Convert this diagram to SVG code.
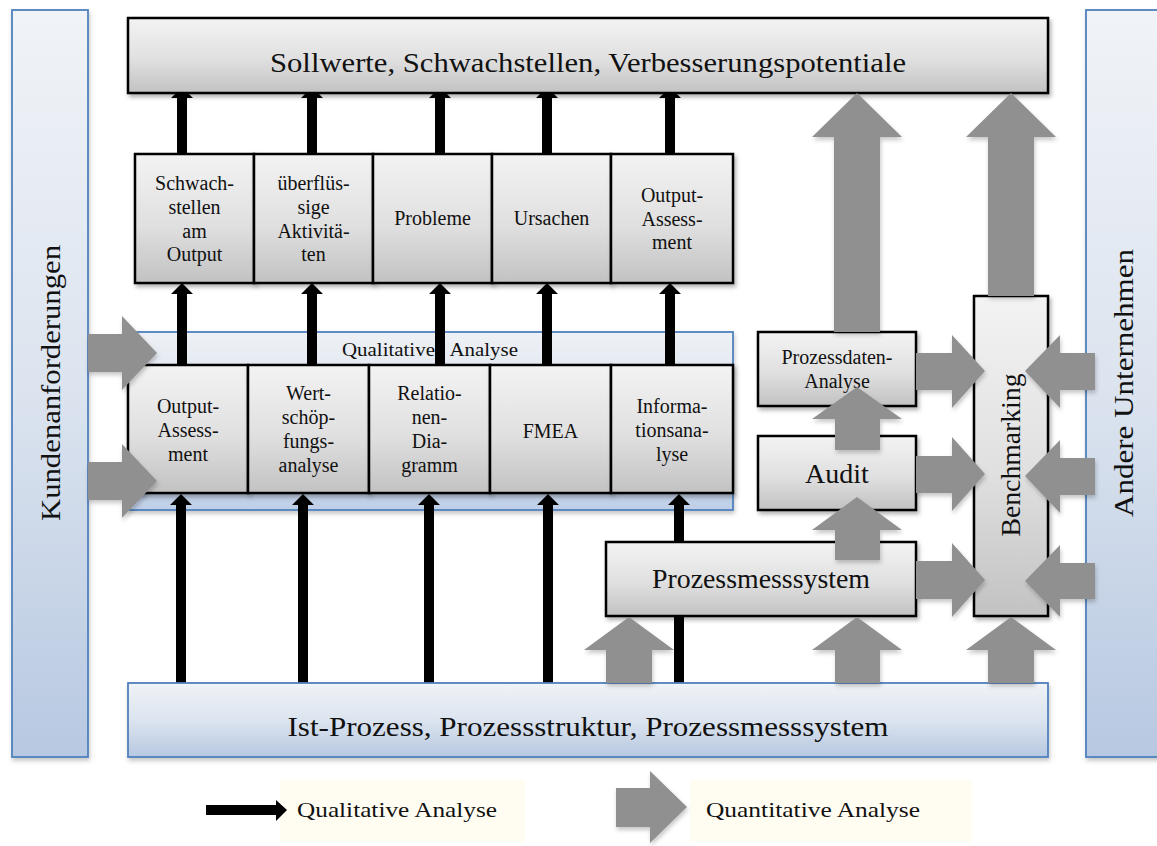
<svg xmlns="http://www.w3.org/2000/svg" width="1157" height="846" viewBox="0 0 1157 846" font-family="'Liberation Serif', 'Times New Roman', serif">
  <defs>
    <linearGradient id="grayFill" x1="0" y1="0" x2="0" y2="1">
      <stop offset="0" stop-color="#f3f3f3"/>
      <stop offset="0.55" stop-color="#e0e0e0"/>
      <stop offset="1" stop-color="#c2c2c2"/>
    </linearGradient>
    <linearGradient id="blueFill" x1="0" y1="0" x2="0" y2="1">
      <stop offset="0" stop-color="#f0f3f7"/>
      <stop offset="0.5" stop-color="#dce4ef"/>
      <stop offset="1" stop-color="#b7c8e1"/>
    </linearGradient>
    <linearGradient id="bandFill" x1="0" y1="0" x2="0" y2="1">
      <stop offset="0" stop-color="#eef1f5"/>
      <stop offset="1" stop-color="#bfcfe7"/>
    </linearGradient>
    <filter id="shadow" x="-10%" y="-10%" width="125%" height="130%">
      <feDropShadow dx="2" dy="3" stdDeviation="2" flood-color="#000" flood-opacity="0.3"/>
    </filter>
    <filter id="softShadow" x="-10%" y="-10%" width="125%" height="130%">
      <feDropShadow dx="1" dy="3" stdDeviation="2" flood-color="#000" flood-opacity="0.22"/>
    </filter>
  </defs>
  <style>
    text { fill: #111; }
    .gbox { fill: url(#grayFill); stroke: #000; stroke-width: 2.5; filter: url(#shadow); }
    .bbox { fill: url(#blueFill); stroke: #4f81bd; stroke-width: 1.8; filter: url(#softShadow); }
    .band { fill: url(#bandFill); stroke: #4f81bd; stroke-width: 1.8; filter: url(#softShadow); }
    .qual { fill: #000; }
    .quant { fill: #909090; filter: url(#softShadow); }
    .sm { font-size: 20px; text-anchor: middle; }
    .big { font-size: 28px; text-anchor: middle; }
    .mid { font-size: 28px; text-anchor: middle; }
    .cream { fill: #fffdf1; }
  </style>

  <rect width="1157" height="846" fill="#fff"/>
  <!-- legend label backdrops -->
  <rect class="cream" x="280" y="780" width="245" height="62"/>
  <rect class="cream" x="690" y="780" width="282" height="62"/>

  <!-- side bars -->
  <g id="kundenanforderungen">
    <rect class="bbox" x="12" y="10" width="76" height="747"/>
    <text class="big" transform="translate(60 383) rotate(-90)" textLength="276" lengthAdjust="spacingAndGlyphs">Kundenanforderungen</text>
  </g>
  <g id="andere-unternehmen">
    <rect class="bbox" x="1086" y="10" width="80" height="747"/>
    <text class="big" transform="translate(1133 383) rotate(-90)" textLength="268" lengthAdjust="spacingAndGlyphs">Andere Unternehmen</text>
  </g>

  <!-- qualitative analysis band -->
  <g id="qualitative-band">
    <rect class="band" x="128" y="332" width="605" height="178"/>
    <text x="430" y="356" font-size="19" text-anchor="middle" xml:space="preserve" textLength="176" lengthAdjust="spacingAndGlyphs">Qualitative   Analyse</text>
  </g>

  <!-- qualitative connectors (black arrows) -->
  <g id="connectors-qualitative">
    <!-- upper boxes to top bar -->
    <path class="qual" d="M177 153V98H171L182 87L193 98H187V153Z"/>
    <path class="qual" d="M307 153V98H301L312 87L323 98H317V153Z"/>
    <path class="qual" d="M435 153V98H429L440 87L451 98H445V153Z"/>
    <path class="qual" d="M542 153V98H536L547 87L558 98H552V153Z"/>
    <path class="qual" d="M665 153V98H659L670 87L681 98H675V153Z"/>
    <!-- lower boxes to upper boxes -->
    <path class="qual" d="M177 365V294H171L182 283L193 294H187V365Z"/>
    <path class="qual" d="M307 365V294H301L312 283L323 294H317V365Z"/>
    <path class="qual" d="M435 365V294H429L440 283L451 294H445V365Z"/>
    <path class="qual" d="M542 365V294H536L547 283L558 294H552V365Z"/>
    <path class="qual" d="M665 365V294H659L670 283L681 294H675V365Z"/>
    <!-- base bar to lower boxes -->
    <path class="qual" d="M176 683V505H170L181 494L192 505H186V683Z"/>
    <path class="qual" d="M298 683V505H292L303 494L314 505H308V683Z"/>
    <path class="qual" d="M424 683V505H418L429 494L440 505H434V683Z"/>
    <path class="qual" d="M543 683V505H537L548 494L559 505H553V683Z"/>
    <path class="qual" d="M674 683V505H668L679 494L690 505H684V683Z"/>
  </g>

  <!-- top result bar -->
  <g id="sollwerte">
    <rect class="gbox" x="128" y="18" width="920" height="75"/>
    <text class="big" x="588" y="72" textLength="636" lengthAdjust="spacingAndGlyphs">Sollwerte, Schwachstellen, Verbesserungspotentiale</text>
  </g>

  <!-- result boxes -->
  <g id="schwachstellen-output">
    <rect class="gbox" x="135" y="154" width="119" height="129"/>
    <text class="sm" x="194.5" y="190">Schwach-</text>
    <text class="sm" x="194.5" y="214">stellen</text>
    <text class="sm" x="194.5" y="238">am</text>
    <text class="sm" x="194.5" y="261">Output</text>
  </g>
  <g id="ueberfluessige-aktivitaeten">
    <rect class="gbox" x="254" y="154" width="119" height="129"/>
    <text class="sm" x="313.5" y="190">überflüs-</text>
    <text class="sm" x="313.5" y="214">sige</text>
    <text class="sm" x="313.5" y="238">Aktivitä-</text>
    <text class="sm" x="313.5" y="261">ten</text>
  </g>
  <g id="probleme">
    <rect class="gbox" x="373" y="154" width="119" height="129"/>
    <text class="sm" x="432.5" y="225">Probleme</text>
  </g>
  <g id="ursachen">
    <rect class="gbox" x="492" y="154" width="119" height="129"/>
    <text class="sm" x="551.5" y="225">Ursachen</text>
  </g>
  <g id="output-assessment-result">
    <rect class="gbox" x="611" y="154" width="122" height="129"/>
    <text class="sm" x="672" y="202">Output-</text>
    <text class="sm" x="672" y="226">Assess-</text>
    <text class="sm" x="672" y="249">ment</text>
  </g>

  <!-- analysis methods -->
  <g id="output-assessment">
    <rect class="gbox" x="128" y="365" width="120" height="128"/>
    <text class="sm" x="188" y="413">Output-</text>
    <text class="sm" x="188" y="437">Assess-</text>
    <text class="sm" x="188" y="461">ment</text>
  </g>
  <g id="wertschoepfungsanalyse">
    <rect class="gbox" x="248" y="365" width="121" height="128"/>
    <text class="sm" x="308.5" y="400">Wert-</text>
    <text class="sm" x="308.5" y="424">schöp-</text>
    <text class="sm" x="308.5" y="448">fungs-</text>
    <text class="sm" x="308.5" y="472">analyse</text>
  </g>
  <g id="relationen-diagramm">
    <rect class="gbox" x="369" y="365" width="121" height="128"/>
    <text class="sm" x="429.5" y="400">Relatio-</text>
    <text class="sm" x="429.5" y="424">nen-</text>
    <text class="sm" x="429.5" y="448">Dia-</text>
    <text class="sm" x="429.5" y="472">gramm</text>
  </g>
  <g id="fmea">
    <rect class="gbox" x="490" y="365" width="121" height="128"/>
    <text class="sm" x="550.5" y="438">FMEA</text>
  </g>
  <g id="informationsanalyse">
    <rect class="gbox" x="611" y="365" width="122" height="128"/>
    <text class="sm" x="672" y="413">Informa-</text>
    <text class="sm" x="672" y="437">tionsana-</text>
    <text class="sm" x="672" y="461">lyse</text>
  </g>

  <!-- quantitative analysis chain -->
  <g id="prozessdaten-analyse">
    <rect class="gbox" x="758" y="332" width="158" height="74"/>
    <text x="837" y="364" font-size="20" text-anchor="middle">Prozessdaten-</text>
    <text x="837" y="388" font-size="20" text-anchor="middle">Analyse</text>
  </g>
  <g id="audit">
    <rect class="gbox" x="758" y="436" width="158" height="74"/>
    <text class="mid" x="837" y="483">Audit</text>
  </g>
  <g id="prozessmesssystem">
    <rect class="gbox" x="606" y="542" width="310" height="74"/>
    <text class="mid" x="761" y="588" textLength="218" lengthAdjust="spacingAndGlyphs">Prozessmesssystem</text>
  </g>
  <g id="benchmarking">
    <rect class="gbox" x="974" y="296" width="74" height="320"/>
    <text class="mid" transform="translate(1020 455) rotate(-90)" font-size="25" textLength="163" lengthAdjust="spacingAndGlyphs">Benchmarking</text>
  </g>

  <!-- base bar -->
  <g id="ist-prozess">
    <rect class="bbox" x="128" y="683" width="920" height="74"/>
    <text class="big" x="588" y="736" textLength="601" lengthAdjust="spacingAndGlyphs">Ist-Prozess, Prozessstruktur, Prozessmesssystem</text>
  </g>

  <!-- quantitative connectors (gray block arrows) -->
  <g id="connectors-quantitative">
    <!-- customer requirements into analysis -->
    <path class="quant" d="M88 334H122V316L157 353L122 390V372H88Z"/>
    <path class="quant" d="M88 462H122V444L157 481L122 518V500H88Z"/>
    <!-- up to top bar -->
    <path class="quant" d="M834 332V137H812L857 93L902 137H880V332Z"/>
    <path class="quant" d="M988 296V137H966L1011 93L1056 137H1034V296Z"/>
    <!-- chain upwards -->
    <path class="quant" d="M835 450V419H812L857 387L902 419H880V450Z"/>
    <path class="quant" d="M835 560V530H812L857 497L902 530H880V560Z"/>
    <!-- base bar upwards -->
    <path class="quant" d="M606 683V650H584L629 617L674 650H652V683Z"/>
    <path class="quant" d="M835 683V650H812L857 617L902 650H880V683Z"/>
    <path class="quant" d="M988 683V650H966L1011 617L1056 650H1034V683Z"/>
    <!-- into benchmarking from the left -->
    <path class="quant" d="M916 353H952V335L985 371L952 408V390H916Z"/>
    <path class="quant" d="M916 456H952V437L985 474L952 511V493H916Z"/>
    <path class="quant" d="M916 561H952V543L985 580L952 617V599H916Z"/>
    <!-- into benchmarking from the right -->
    <path class="quant" d="M1095 353H1060V335L1025 371L1060 408V390H1095Z"/>
    <path class="quant" d="M1095 458H1060V440L1025 476L1060 513V495H1095Z"/>
    <path class="quant" d="M1095 563H1060V545L1025 581L1060 617V599H1095Z"/>
  </g>

  <!-- legend -->
  <g id="legend">
    <path class="qual" d="M206 805H276V800L287 810L276 821V815H206Z"/>
    <text x="297" y="817" font-size="21" textLength="200" lengthAdjust="spacingAndGlyphs">Qualitative Analyse</text>
    <path class="quant" d="M616 788H650V771L687 807L650 843V827H616Z"/>
    <text x="706" y="817" font-size="21" textLength="214" lengthAdjust="spacingAndGlyphs">Quantitative Analyse</text>
  </g>
</svg>
